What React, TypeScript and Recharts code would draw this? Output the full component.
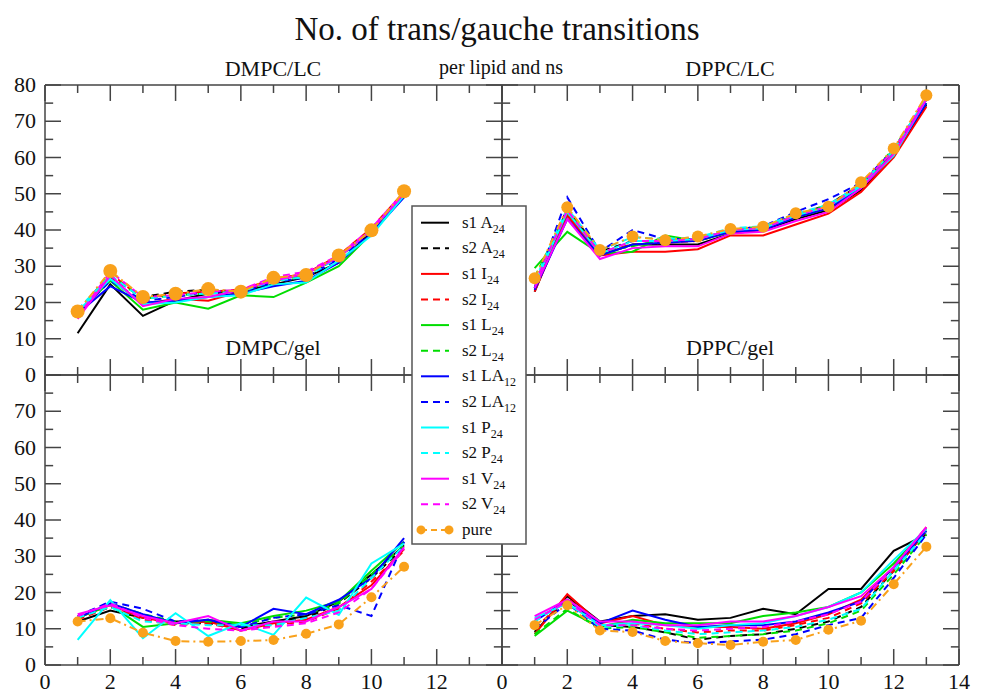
import { LineChart, Line, XAxis, YAxis, ReferenceLine } from 'recharts'

const SERIES = ['s1 A', 's2 A', 's1 I', 's2 I', 's1 L', 's2 L', 's1 LA', 's2 LA', 's1 P', 's2 P', 's1 V', 's2 V', 'pure']
const SUBS = ['24', '24', '24', '24', '24', '24', '12', '12', '24', '24', '24', '24', '']
const COLORS = ['#000000', '#000000', '#ff0000', '#ff0000', '#00dd00', '#00dd00', '#0000ff', '#0000ff', '#00ffff', '#00ffff', '#ff00ff', '#ff00ff', '#f9a11b']

const X_DMPC = [1, 2, 3, 4, 5, 6, 7, 8, 9, 10, 11]
const X_DPPC = [1, 2, 3, 4, 5, 6, 7, 8, 9, 10, 11, 12, 13]
const X_TICKS = [0, 1, 2, 3, 4, 5, 6, 7, 8, 9, 10, 11, 12, 13, 14]
const Y_TICKS = [0, 5, 10, 15, 20, 25, 30, 35, 40, 45, 50, 55, 60, 65, 70, 75, 80]

// rows follow SERIES order
const DMPC_LC = [
  [11.5, 25, 16.3, 20.5, 22.5, 23, 25, 27, 31, 39.5, 49.5],
  [17, 27, 21.5, 23, 23.5, 23, 26, 27.5, 32.5, 40, 50],
  [17, 26.5, 19.5, 21, 20.5, 23, 26, 28, 32.5, 40, 50],
  [17.5, 28, 21, 22.5, 23, 23.5, 26.5, 28, 33, 40.5, 50.5],
  [17, 26, 18, 20, 18.3, 22, 21.5, 25.5, 30, 39, 49.5],
  [17.5, 27.5, 21, 22, 22.5, 23, 26, 27.5, 32.5, 40, 50],
  [17, 24.5, 20, 20.5, 21.5, 22.5, 24.5, 26, 31, 39, 49],
  [17, 26, 20.5, 21.5, 23, 23, 25.5, 27, 32, 39.5, 49.5],
  [17.5, 26.5, 19.5, 20, 21.5, 22, 25, 25.5, 31.5, 38.5, 49.5],
  [18, 27.5, 21, 22, 22.5, 23, 26, 27, 32.5, 40, 50],
  [15.5, 27.5, 19, 21, 21.5, 23.5, 26, 28, 32.5, 40, 50],
  [16, 28.5, 21.5, 22, 23, 23.5, 27, 28.5, 33, 40.5, 50.5],
  [17.5, 28.7, 21.5, 22.4, 23.7, 23, 26.8, 27.6, 33, 39.9, 50.7],
]

const DPPC_LC = [
  [23, 45, 33, 36, 36, 36, 39, 40, 43, 45.5, 51, 61, 74.5],
  [24, 46, 34, 37, 37, 37, 40, 41, 44, 47, 52.5, 62, 76],
  [23, 44, 33, 34, 34, 34.7, 38.5, 38.5, 41.5, 44.5, 50.5, 60, 74],
  [25, 45.5, 34, 36, 36.5, 37, 39.5, 40.5, 43.5, 46.5, 52, 62, 76],
  [29.5, 39.5, 33.5, 34, 38.5, 37, 39.5, 40.5, 43.5, 46, 52, 62, 75],
  [27, 45, 34, 35.5, 37.5, 37.5, 40, 41, 44, 47, 52.5, 62.5, 76],
  [23.5, 43, 33, 36, 36.5, 37, 39.5, 40, 43.5, 46, 51.5, 61, 75],
  [24, 49, 34, 40, 37.5, 37.5, 40, 41, 45, 48.5, 53, 62, 76],
  [25, 45, 33.5, 37, 37, 37.5, 40, 40.5, 44, 46.5, 52, 60.5, 76],
  [26, 46, 34.5, 38, 37.5, 38, 40.5, 41, 44.5, 47, 52.5, 62, 76.5],
  [24, 43, 32, 35, 35.5, 35.5, 39, 39.5, 42.5, 45, 51.5, 61, 76],
  [25, 45.5, 33.5, 37, 37, 37.5, 40, 40.5, 44, 46.5, 52.5, 62, 77],
  [26.7, 46.3, 34.5, 38.2, 37.2, 38.2, 40.3, 40.9, 44.6, 46.4, 53.2, 62.5, 77.2],
]

const DMPC_GEL = [
  [12, 15, 13, 12, 12, 10.5, 12, 13.5, 17.5, 25, 33],
  [13, 16, 13.5, 11.5, 11.5, 10, 12, 13, 17, 24, 32.5],
  [13, 16.5, 13, 11.5, 12, 9.5, 11.5, 12.5, 16, 22, 32],
  [12.5, 16, 12.5, 11, 11.5, 9.5, 11, 12, 15.5, 23, 31.5],
  [13, 16.5, 10.5, 11.5, 12.5, 11.5, 13.5, 15, 17.5, 26, 34],
  [13.5, 17, 14, 12, 12, 11, 13, 14, 17, 25, 33],
  [13, 17, 14, 11.5, 12.5, 10.5, 15.5, 14, 18, 24, 35],
  [13.5, 17.5, 15.5, 12, 12.5, 10.5, 13, 14, 16.5, 13.5, 34],
  [6.9, 17.9, 7.4, 14.3, 8, 11.6, 8.3, 18.6, 13.8, 28, 33.5],
  [13, 16, 12, 11.5, 11, 11, 11, 13, 15, 24, 33],
  [14, 16.5, 13.5, 11.5, 13.5, 9.5, 12, 12, 16, 21, 32.5],
  [13.5, 17, 13, 11, 10, 9.5, 10.5, 11.5, 14.5, 21, 32],
  [12, 12.9, 8.9, 6.6, 6.4, 6.6, 6.9, 8.6, 11.2, 18.7, 27.1],
]

const DPPC_GEL = [
  [9, 19, 12, 13.5, 14, 12.5, 13, 15.5, 14, 21, 21, 31.5, 36],
  [9.5, 18, 11, 10.5, 9, 7, 8, 8.5, 10, 12, 16, 26, 37],
  [8.5, 19.5, 11.5, 13.5, 11, 10.5, 10.5, 10, 11.5, 14, 18, 27, 38],
  [10, 18.5, 11, 11.5, 10, 9, 9.5, 9.5, 11, 13, 17, 26, 37],
  [8, 15, 10.5, 12.5, 11.5, 11.5, 11.5, 13.5, 14.5, 16, 20, 28, 37.5],
  [8.5, 15.5, 10, 10.5, 9, 7.5, 8, 8.5, 9.5, 11.5, 15, 25, 36],
  [12, 18, 11.5, 15, 12.5, 10.5, 11, 11, 12, 14.5, 17.5, 27, 37],
  [10, 17, 10, 9.5, 7, 6, 6.5, 7, 8.5, 11, 13, 24, 36],
  [13, 17, 11, 11.5, 11, 10, 11, 11.5, 13.5, 16, 20, 29, 37.5],
  [12, 17.5, 10.5, 11, 9.5, 8.5, 9, 9.5, 10.5, 12.5, 15.5, 26, 36.5],
  [13.5, 18, 12, 12, 11, 11, 12, 12, 13.5, 16, 19, 27, 38],
  [12.5, 17.5, 11, 11, 10, 9.5, 10, 10.5, 12, 14, 17.5, 27, 38],
  [11, 16.5, 9.5, 9.1, 6.6, 6, 5.5, 6.4, 6.9, 9.7, 12.2, 22.3, 32.6],
]

const W = 992
const H = 693
const FONT = '"Liberation Serif", "Times New Roman", serif'
const FRAME = '#444'
const TEXT = '#111'
// inward tick lengths expressed in axis units (major / minor)
const X_LEN = [0.49, 0.25]
const Y_LEN = [4.4, 2.2]

function xLabel(labels: number[]) {
  return (p: any) => {
    const v = p.payload.value
    if (!labels.includes(v)) return <g />
    return <text x={p.x} y={p.y + 24} textAnchor="middle" fontSize={22} fontFamily={FONT} fill={TEXT}>{v}</text>
  }
}

function yLabel(side: 'left' | 'right', labels: number[]) {
  return (p: any) => {
    const v = p.payload.value
    if (!labels.includes(v)) return <g />
    return (
      <text x={side === 'left' ? p.x - 9 : p.x + 9} y={p.y + 7} textAnchor={side === 'left' ? 'end' : 'start'} fontSize={22} fontFamily={FONT} fill={TEXT}>{v}</text>
    )
  }
}

type Rect = { x0: number; x1: number; y0: number; y1: number }
type Labels = { bottom: number[]; left: number[]; right: number[] }

function Panel({ xs, values, rect, labels, dotR }: { xs: number[]; values: number[][]; rect: Rect; labels: Labels; dotR: number }) {
  const data = xs.map((x, i) => {
    const row: Record<string, number> = { x }
    values.forEach((v, k) => { row['k' + k] = v[i] })
    return row
  })
  const line = { stroke: FRAME, strokeWidth: 1.5 }
  const margin = { left: rect.x0 - 1, right: W - rect.x1 - 1, top: rect.y0 - 1, bottom: H - rect.y1 - 1 }
  const xc = { dataKey: 'x', type: 'number' as const, domain: [0, 14], ticks: X_TICKS, interval: 0, height: 1, tickSize: 0, tickMargin: 0, tickLine: false, axisLine: line }
  const yc = { type: 'number' as const, domain: [0, 80], ticks: Y_TICKS, interval: 0, width: 1, tickSize: 0, tickMargin: 0, tickLine: false, axisLine: line }
  const tick = { stroke: FRAME, strokeWidth: 1.5, ifOverflow: 'visible' as const, xAxisId: 'b', yAxisId: 'l' }
  return (
    <div style={{ position: 'absolute', left: 0, top: 0 }}>
      <LineChart width={W} height={H} data={data} margin={margin}>
        <XAxis xAxisId="b" {...xc} tick={xLabel(labels.bottom)} />
        <XAxis xAxisId="t" orientation="top" {...xc} tick={false} />
        <YAxis yAxisId="l" {...yc} tick={yLabel('left', labels.left)} />
        <YAxis yAxisId="r" orientation="right" {...yc} tick={yLabel('right', labels.right)} />
        {X_TICKS.map((v) => {
          const len = Y_LEN[v % 2 === 0 ? 0 : 1]
          return [
            <ReferenceLine key={'xb' + v} {...tick} segment={[{ x: v, y: 0 }, { x: v, y: len }]} />,
            <ReferenceLine key={'xt' + v} {...tick} segment={[{ x: v, y: 80 }, { x: v, y: 80 - len }]} />,
          ]
        })}
        {Y_TICKS.map((v) => {
          const len = X_LEN[v % 10 === 0 ? 0 : 1]
          return [
            <ReferenceLine key={'yl' + v} {...tick} segment={[{ x: 0, y: v }, { x: len, y: v }]} />,
            <ReferenceLine key={'yr' + v} {...tick} segment={[{ x: 14, y: v }, { x: 14 - len, y: v }]} />,
          ]
        })}
        {values.map((_, k) => {
          const pure = k === values.length - 1
          return (
            <Line
              key={SERIES[k]}
              xAxisId="b"
              yAxisId="l"
              dataKey={'k' + k}
              type="linear"
              stroke={COLORS[k]}
              strokeWidth={2}
              strokeDasharray={pure ? '8 4 2 4' : k % 2 === 1 ? '7 5' : undefined}
              dot={pure ? { r: dotR, fill: COLORS[k], stroke: 'none' } : false}
              activeDot={false}
              isAnimationActive={false}
            />
          )
        })}
      </LineChart>
    </div>
  )
}

const TENS = [0, 10, 20, 30, 40, 50, 60, 70, 80]
const TENS_LOW = [0, 10, 20, 30, 40, 50, 60, 70]

function LegendBox() {
  const top = 222.7
  const step = 25.6
  return (
    <svg width={W} height={H} style={{ position: 'absolute', left: 0, top: 0, pointerEvents: 'none' }}>
      <text x={497} y={40} textAnchor="middle" fontSize={33} fontFamily={FONT} fill={TEXT}>No. of trans/gauche transitions</text>
      <text x={273} y={76} textAnchor="middle" fontSize={22} fontFamily={FONT} fill={TEXT}>DMPC/LC</text>
      <text x={501} y={74} textAnchor="middle" fontSize={20} fontFamily={FONT} fill={TEXT}>per lipid and ns</text>
      <text x={730} y={76} textAnchor="middle" fontSize={22} fontFamily={FONT} fill={TEXT}>DPPC/LC</text>
      <text x={273} y={355} textAnchor="middle" fontSize={22} fontFamily={FONT} fill={TEXT}>DMPC/gel</text>
      <text x={730} y={355} textAnchor="middle" fontSize={22} fontFamily={FONT} fill={TEXT}>DPPC/gel</text>
      <rect x={412} y={206} width={114} height={338} fill="#fff" stroke="#555" strokeWidth={1.5} />
      {SERIES.map((name, k) => {
        const y = top + k * step
        const pure = k === SERIES.length - 1
        return (
          <g key={name}>
            <line x1={421} y1={y} x2={449} y2={y} stroke={COLORS[k]} strokeWidth={2}
              strokeDasharray={pure ? '6 4' : k % 2 === 1 ? '7 5' : undefined} />
            {pure && <circle cx={421} cy={y} r={4.5} fill={COLORS[k]} />}
            {pure && <circle cx={449} cy={y} r={4.5} fill={COLORS[k]} />}
            <text x={462} y={y + 5} fontSize={17} fontFamily={FONT} fill={TEXT}>
              {name}
              {SUBS[k] && <tspan fontSize={12} dy={5}>{SUBS[k]}</tspan>}
            </text>
          </g>
        )
      })}
    </svg>
  )
}

export default function App() {
  return (
    <div style={{ position: 'absolute', left: 0, top: 0, width: W, height: H, background: '#fff', overflow: 'hidden' }}>
      <Panel xs={X_DMPC} values={DMPC_GEL} rect={{ x0: 45, x1: 502, y0: 375, y1: 665 }} labels={{ bottom: [0, 2, 4, 6, 8, 10, 12], left: TENS_LOW, right: [] }} dotR={5} />
      <Panel xs={X_DPPC} values={DPPC_GEL} rect={{ x0: 502, x1: 959, y0: 375, y1: 665 }} labels={{ bottom: [0, 2, 4, 6, 8, 10, 12, 14], left: [], right: TENS_LOW }} dotR={5} />
      <Panel xs={X_DMPC} values={DMPC_LC} rect={{ x0: 45, x1: 502, y0: 85, y1: 375 }} labels={{ bottom: [], left: TENS, right: [] }} dotR={7} />
      <Panel xs={X_DPPC} values={DPPC_LC} rect={{ x0: 502, x1: 959, y0: 85, y1: 375 }} labels={{ bottom: [], left: [], right: TENS }} dotR={6} />
      <LegendBox />
    </div>
  )
}
